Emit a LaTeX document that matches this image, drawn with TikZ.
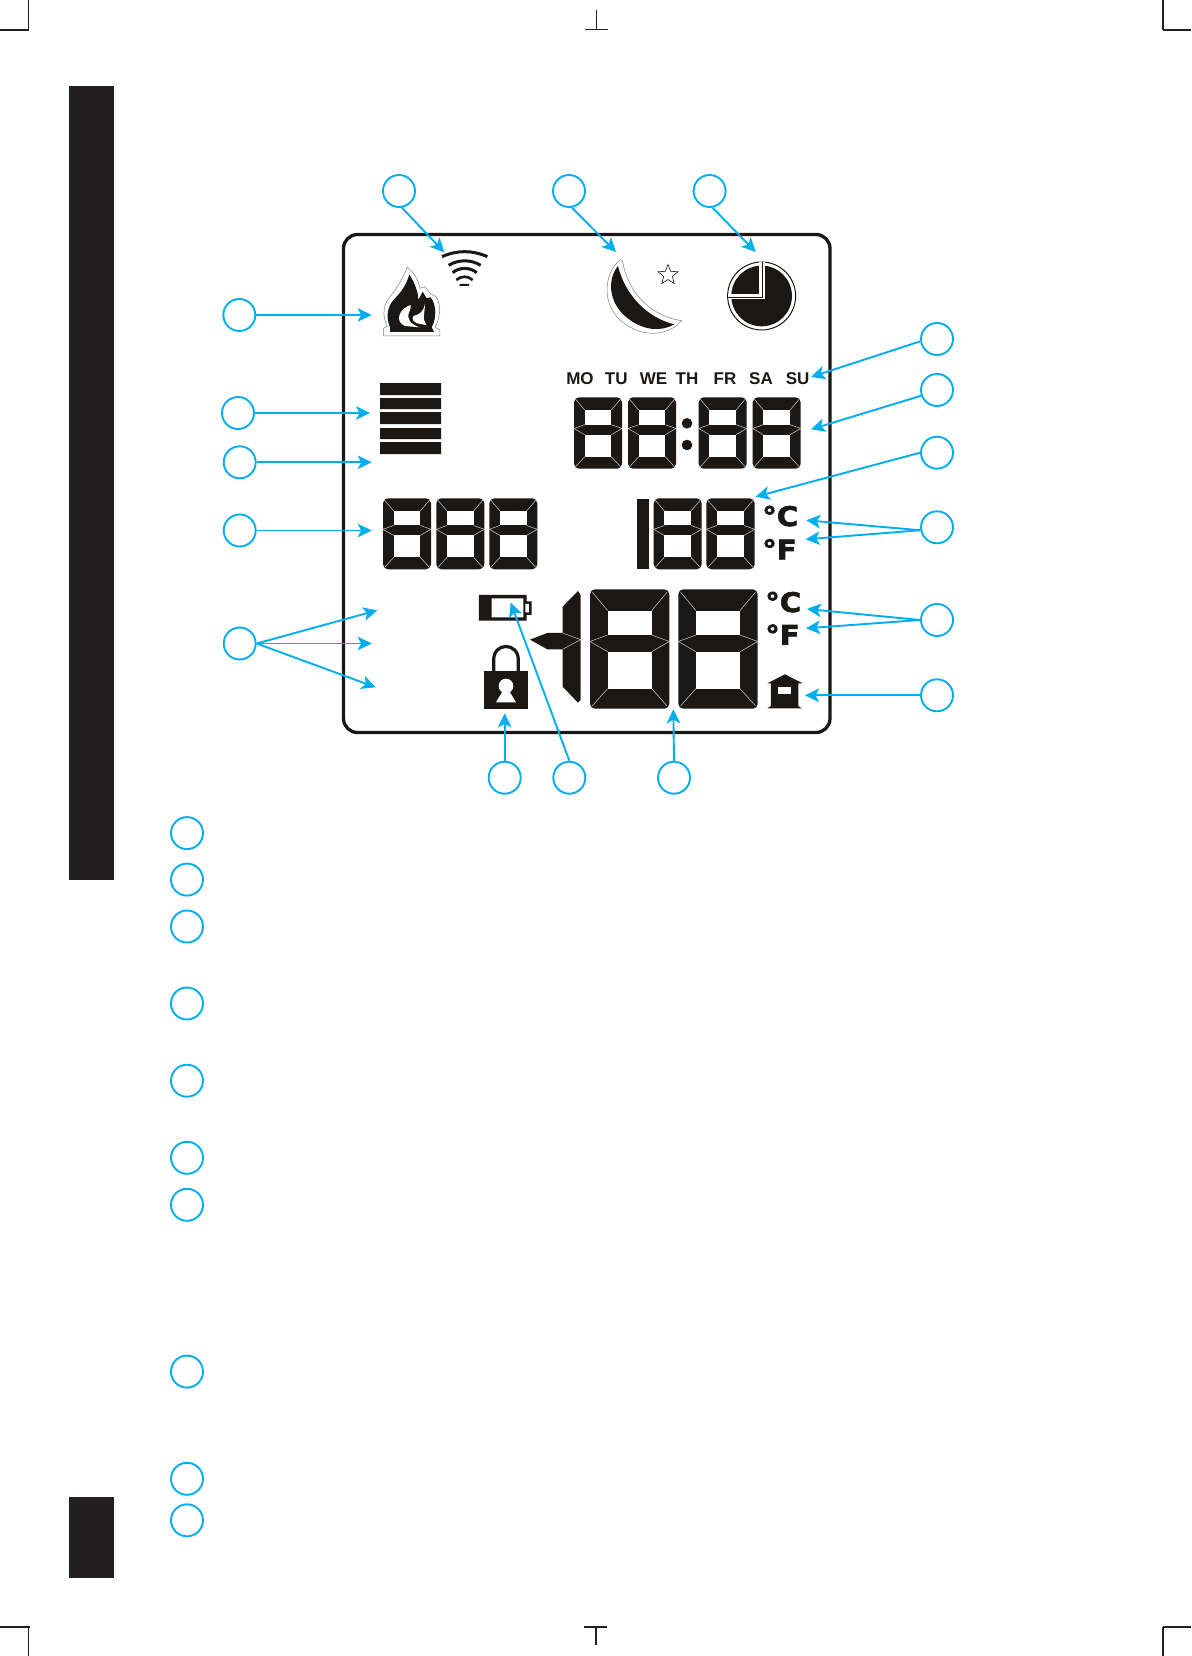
\documentclass[tikz,border=0pt]{standalone}
\usepackage{fontspec}
\setmainfont{Liberation Sans}
\newfontfamily\heavyfont[FakeBold=2.5,FakeStretch=1.08]{DejaVu Sans Bold}
\usetikzlibrary{arrows.meta,shapes.geometric}
\definecolor{cyanline}{HTML}{00AEEF}
\definecolor{lcdblack}{HTML}{1A1714}
\definecolor{tabblack}{HTML}{231F20}
\definecolor{seggrey}{HTML}{C4C2C0}
\tikzset{
  callout/.style={circle,draw=cyanline,line width=1.9pt,minimum size=32pt,inner sep=0pt},
  pointer/.style={draw=cyanline,line width=1.9pt,-{Stealth[length=14pt,width=13.5pt,inset=3.5pt]}},
  crop/.style={draw=tabblack,line width=1.3pt},
  segline/.style={draw=seggrey,line width=0.55pt},
  daylabel/.style={font=\bfseries\fontsize{17}{17}\selectfont,text=lcdblack,inner sep=0pt},
  unitlabel/.style={font=\heavyfont\fontsize{27}{27}\selectfont,text=lcdblack,inner sep=0pt,anchor=base west},
  zoomA/.style={shift={(340,230)},x=0.3333pt,y=-0.3333pt},
  zoomB/.style={shift={(340,480)},x=0.3333pt,y=-0.3333pt},
  zoomF/.style={shift={(370,240)},x=0.3333pt,y=-0.3333pt},
}
\newcommand{\lcddigit}[4]{%
  \begin{scope}[shift={(#1,#2)},x=#3pt,y=-#4pt]
    \fill[lcdblack,rounded corners=5pt] (0,0) rectangle (1,1);
    \fill[white] (.222,.178) rectangle (.778,.383);
    \fill[white] (.222,.523) rectangle (.778,.832);
    \draw[segline] (.03,.025) -- (.222,.178) (.97,.025) -- (.778,.178)
                   (.03,.975) -- (.222,.832) (.97,.975) -- (.778,.832)
                   (0,.437) -- (.222,.383) (0,.437) -- (.222,.523)
                   (1,.437) -- (.778,.383) (1,.437) -- (.778,.523);
  \end{scope}}
\begin{document}
\begin{tikzpicture}[x=1pt,y=-1pt]
\useasboundingbox (0,0) rectangle (1191,1656);
% side tabs
\fill[tabblack] (69,86) rectangle (114,880);
\fill[tabblack] (69,1497) rectangle (114,1578);
% crop marks
\draw[crop] (28.5,0) -- (28.5,30) (0,30) -- (28.5,30);
\draw[crop] (596.5,10) -- (596.5,29.5) (585,29.5) -- (608,29.5);
\draw[crop] (1163,0) -- (1163,30) (1163,30) -- (1191,30);
\draw[crop] (0,1627) -- (30,1627) (28.7,1627) -- (28.7,1656);
\draw[crop] (596,1627) -- (596,1645) (584,1627) -- (607,1627);
\draw[crop] (1163,1627) -- (1191,1627) (1163,1627) -- (1163,1656);
% frame
\draw[lcdblack,line width=3.3pt,rounded corners=14pt] (343.5,234.5) rectangle (830,732.5);
% bars
\fill[lcdblack] (380,383) rectangle (441,395) (380,398) rectangle (441,409)
  (380,412) rectangle (441,424) (380,428) rectangle (441,439) (380,442) rectangle (441,454);
% digits
\lcddigit{574}{397.3}{48}{71.4}
\lcddigit{628}{397.3}{48}{71.4}
\lcddigit{698.7}{397.3}{48}{71.4}
\lcddigit{752.7}{397.3}{48}{71.4}
\fill[lcdblack] (687,423.3) circle (5.3) (687,445) circle (5.3);
\lcddigit{383}{498.3}{48}{71}
\lcddigit{436.3}{498.3}{48}{71}
\lcddigit{489.3}{498.3}{48}{71}
\fill[lcdblack] (637,498.5) rectangle (648.7,569.3);
\lcddigit{653.7}{498.3}{48}{71}
\lcddigit{706.3}{498.3}{48.4}{71}
\lcddigit{590}{589.3}{79.3}{119.4}
\lcddigit{678.3}{589.3}{79.4}{119.4}
% days
\node[daylabel] (mo) at (580,379) {MO};
\node[daylabel] (tu) at (616.3,379) {TU};
\node[daylabel] (we) at (653.5,379) {WE};
\node[daylabel] (th) at (687,379) {TH};
\node[daylabel] (fr) at (725,379) {FR};
\node[daylabel] (sa) at (761,379) {SA};
\node[daylabel] (su) at (797.7,379) {SU};
% units
\node[unitlabel] (c1u) at (762,526) {°C};
\node[unitlabel] (f1u) at (762,559.3) {°F};
\node[unitlabel] (c2u) at (765,612) {°C};
\node[unitlabel] (f2u) at (765,644.7) {°F};
% wifi, moon, clock
\begin{scope}[zoomA]
  \draw[lcdblack,line width=3pt] (306,80) .. controls (350,60) and (398,60) .. (442,80);
  \draw[lcdblack,line width=3pt] (326,106) .. controls (355,88) and (393,88) .. (422,106);
  \draw[lcdblack,line width=3pt] (338,128) .. controls (358,111) and (390,111) .. (410,128);
  \draw[lcdblack,line width=2.6pt] (349,150) .. controls (365,137) and (383,137) .. (398,150);
  \fill[lcdblack] (360,162) -- (386,162) -- (388,168) -- (358,168) -- cycle;
  % moon
  \draw[draw=gray,fill=white,line width=.5pt] (840,90) .. controls (790,130) and (780,235) .. (860,285)
     .. controls (915,322) and (985,318) .. (1025,272)
     .. controls (950,262) and (868,205) .. (848,95) .. controls (848,88) and (843,88) .. (840,90) -- cycle;
  \fill[lcdblack] (834,108) .. controls (800,150) and (805,225) .. (870,270)
     .. controls (915,302) and (965,305) .. (1003,283)
     .. controls (945,270) and (862,218) .. (834,108) -- cycle;
  % clock
  \draw[lcdblack,line width=1pt] (1265,198) circle (102);
  \fill[lcdblack] (1265,198) circle (91);
  \draw[white,line width=5.5pt] (1266,96) -- (1266,200) -- (1163,200);
  \draw[lcdblack,line width=.7pt] (1268,97) -- (1268,202) -- (1164,202);
\end{scope}
\node[star,star points=5,star point ratio=2.3,draw=lcdblack,line width=.6pt,minimum size=21pt,inner sep=0pt] (starmark) at (668,275) {};
% flame
\begin{scope}[zoomF]
  \draw[draw=gray,fill=white,line width=.5pt] (40,288) -- (40,265) -- (52,258) .. controls (35,225) and (40,195) .. (60,170)
     .. controls (85,140) and (100,110) .. (112,82) .. controls (130,95) and (145,120) .. (150,145)
     -- (165,140) -- (180,160) -- (198,170) .. controls (215,195) and (210,235) .. (195,262) -- (210,270) -- (210,288) -- cycle;
  \fill[lcdblack] (60,276) -- (60,262) .. controls (45,225) and (55,195) .. (75,175)
     .. controls (100,150) and (112,125) .. (118,103) .. controls (132,125) and (145,155) .. (145,180)
     -- (158,155) -- (170,175) -- (182,172) .. controls (200,195) and (200,235) .. (185,262) -- (192,276) -- cycle;
  \fill[white] (122,195) .. controls (88,205) and (72,245) .. (105,258) -- (148,262)
     .. controls (122,252) and (108,238) .. (118,215) .. controls (122,205) and (124,200) .. (122,195) -- cycle;
  \fill[white] (165,192) .. controls (160,215) and (148,225) .. (130,228) .. controls (125,238) and (130,245) .. (142,250)
     .. controls (150,250) and (160,255) .. (170,256) .. controls (155,240) and (165,215) .. (165,192) -- cycle;
\end{scope}
% battery, lock, minus sign, house
\begin{scope}[zoomB]
  \fill[lcdblack] (417,345) rectangle (560,422) (556,364) rectangle (575,405);
  \fill[white] (455,355) rectangle (550,412) (556,372) rectangle (567,397);
  \draw[lcdblack,line width=3.2pt] (461,575) -- (461,540) .. controls (461,486) and (535,486) .. (535,540) -- (535,575);
  \fill[lcdblack] (432,573) rectangle (564,687);
  \fill[white] (498,618) circle (22);
  \fill[white] (490,630) -- (468,667) -- (528,667) -- (506,630) -- cycle;
  \fill[lcdblack] (714,333) -- (722,345) -- (722,660) -- (714,668) -- (668,620) -- (668,508) -- (622,508)
     -- (570,479) -- (622,459) -- (668,459) -- (668,380) -- cycle;
  \draw[segline] (668,459) -- (722,479) -- (668,508);
  \fill[lcdblack] (1282,610) -- (1335,583) -- (1388,610) -- (1375,610) -- (1375,678) -- (1385,685)
     -- (1282,685) -- (1293,678) -- (1293,610) -- cycle;
  \fill[white] (1313,620) rectangle (1353,642);
\end{scope}
% callouts
\node[callout] (t1) at (399,191) {};
\node[callout] (t2) at (569,191) {};
\node[callout] (t3) at (709.6,191) {};
\node[callout] (l1) at (239.3,315) {};
\node[callout] (l2) at (238,413) {};
\node[callout] (l3) at (239.7,462.3) {};
\node[callout] (l4) at (239.7,530.5) {};
\node[callout] (l5) at (239.7,643.5) {};
\node[callout] (r1) at (937,339) {};
\node[callout] (r2) at (937,390) {};
\node[callout] (r3) at (937,452.7) {};
\node[callout] (r4) at (937,527.3) {};
\node[callout] (r5) at (937,620) {};
\node[callout] (r6) at (937,695.3) {};
\node[callout] (b1) at (504.7,777.7) {};
\node[callout] (b2) at (569.3,777.7) {};
\node[callout] (b3) at (674,777.7) {};
\node[callout] (s1) at (187,833.1) {};
\node[callout] (s2) at (187,879.6) {};
\node[callout] (s3) at (187,926.5) {};
\node[callout] (s4) at (187,1003.5) {};
\node[callout] (s5) at (187,1080.7) {};
\node[callout] (s6) at (187,1157.8) {};
\node[callout] (s7) at (187,1204.8) {};
\node[callout] (s8) at (187,1371.6) {};
\node[callout] (s9) at (187,1478.8) {};
\node[callout] (s10) at (187,1520.3) {};
% arrow tips
\coordinate (tt1) at (444.3,252.3);
\coordinate (tt2) at (616,252);
\coordinate (tt3) at (755.7,252);
\coordinate (tl1) at (371.7,315);
\coordinate (tl2) at (370,413);
\coordinate (tl3) at (371.7,462.3);
\coordinate (tl4) at (371.7,530.5);
\coordinate (tl5a) at (377.3,610.3);
\coordinate (tl5b) at (371.7,643.5);
\coordinate (tl5c) at (375.7,687.3);
\coordinate (tr1) at (811,377);
\coordinate (tr2) at (811,429.3);
\coordinate (tr3) at (755.7,496.7);
\coordinate (tr4a) at (806.3,520.3);
\coordinate (tr4b) at (805.7,539.3);
\coordinate (tr5a) at (807,609);
\coordinate (tr5b) at (806,628.3);
\coordinate (tr6) at (805,695.3);
\coordinate (tb1) at (504.7,713.3);
\coordinate (tb2) at (510.7,602.7);
\coordinate (tb3) at (673.3,709.3);
% arrows
\draw[pointer] (t1.-80) -- (tt1);
\draw[pointer] (t2.-80) -- (tt2);
\draw[pointer] (t3.-80) -- (tt3);
\draw[pointer] (l1.east) -- (tl1);
\draw[pointer] (l2.east) -- (tl2);
\draw[pointer] (l3.east) -- (tl3);
\draw[pointer] (l4.east) -- (tl4);
\draw[pointer] (l5.east) -- (tl5a);
\draw[pointer] (l5.east) -- (tl5b);
\draw[pointer] (l5.east) -- (tl5c);
\draw[pointer] (r1.188) -- (tr1);
\draw[pointer] (r2.200) -- (tr2);
\draw[pointer] (r3.west) -- (tr3);
\draw[pointer] (r4.190) -- (tr4a);
\draw[pointer] (r4.190) -- (tr4b);
\draw[pointer] (r5.west) -- (tr5a);
\draw[pointer] (r5.west) -- (tr5b);
\draw[pointer] (r6.west) -- (tr6);
\draw[pointer] (b1.north) -- (tb1);
\draw[pointer] (b2.north) -- (tb2);
\draw[pointer] (b3.north) -- (tb3);
\end{tikzpicture}
\end{document}
